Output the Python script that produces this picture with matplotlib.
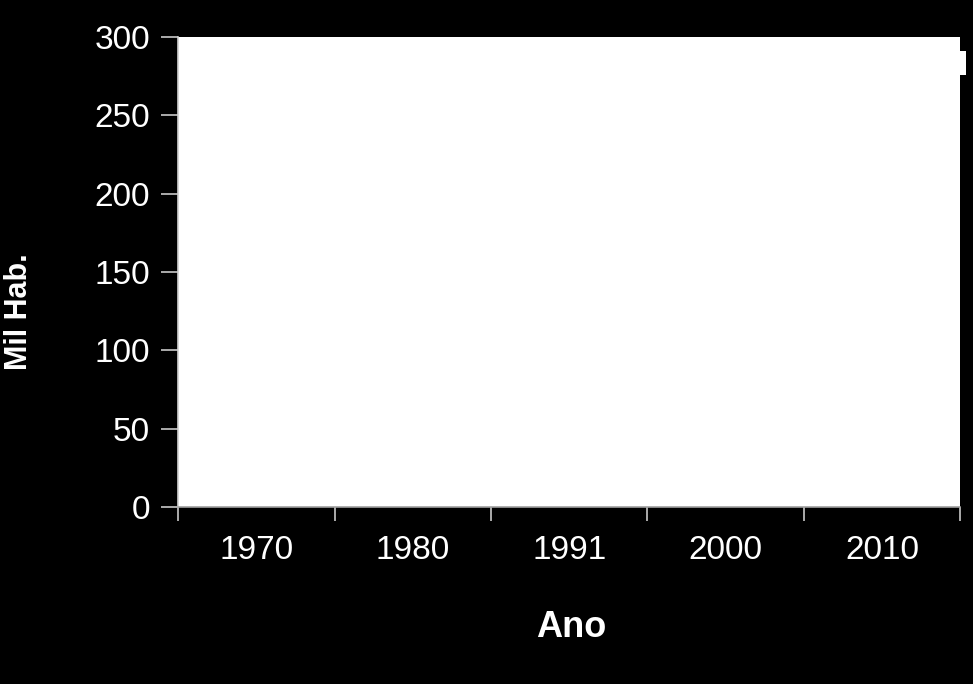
import matplotlib
matplotlib.use("Agg")
import matplotlib.pyplot as plt
from matplotlib.patches import Rectangle
import numpy as np

# chart data: categories only, no series values are drawn
categories = ["1970", "1980", "1991", "2000", "2010"]
yticks = [0, 50, 100, 150, 200, 250, 300]

plt.rcParams['font.family'] = ['Liberation Sans', 'DejaVu Sans']

fig = plt.figure(figsize=(9.73, 6.84), dpi=100, facecolor='black')
ax = fig.add_axes([0.183, 0.259, 0.804, 0.687])
ax.set_facecolor('white')

ax.set_xlim(0, len(categories))
ax.set_ylim(0, 300)

# category labels centred, ticks at boundaries
ax.set_xticks(np.arange(len(categories)) + 0.5)
ax.set_xticklabels(categories)
ax.set_xticks(np.arange(len(categories) + 1), minor=True)
ax.tick_params(axis='x', which='major', length=0, pad=20, labelsize=24, labelcolor='white')
ax.tick_params(axis='x', which='minor', length=10, width=1.2, color='#c8c8c8', direction='out')

ax.set_yticks(yticks)
ax.tick_params(axis='y', length=12, width=1.2, color='#c8c8c8', direction='out',
               pad=8, labelsize=24, labelcolor='white')

for s in ['top', 'right']:
    ax.spines[s].set_visible(False)
ax.spines['left'].set_color('#d0d0d0')
ax.spines['bottom'].set_color('#a0a0a0')
ax.spines['left'].set_linewidth(1.2)
ax.spines['bottom'].set_linewidth(1.2)

fig.text(0.587, 0.082, "Ano", color='white', fontsize=26, fontweight='bold',
         ha='center', va='center')
fig.text(0.004, 0.545, "Mil Hab.", color='white', fontsize=22, fontweight='bold',
         rotation=90, ha='left', va='center')

# small cut-off box at the right edge
fig.patches.append(Rectangle((0.987, 0.89), 0.006, 0.036, transform=fig.transFigure,
                             facecolor='white', edgecolor='none'))

fig.savefig("out.png", dpi=100, facecolor='black')
